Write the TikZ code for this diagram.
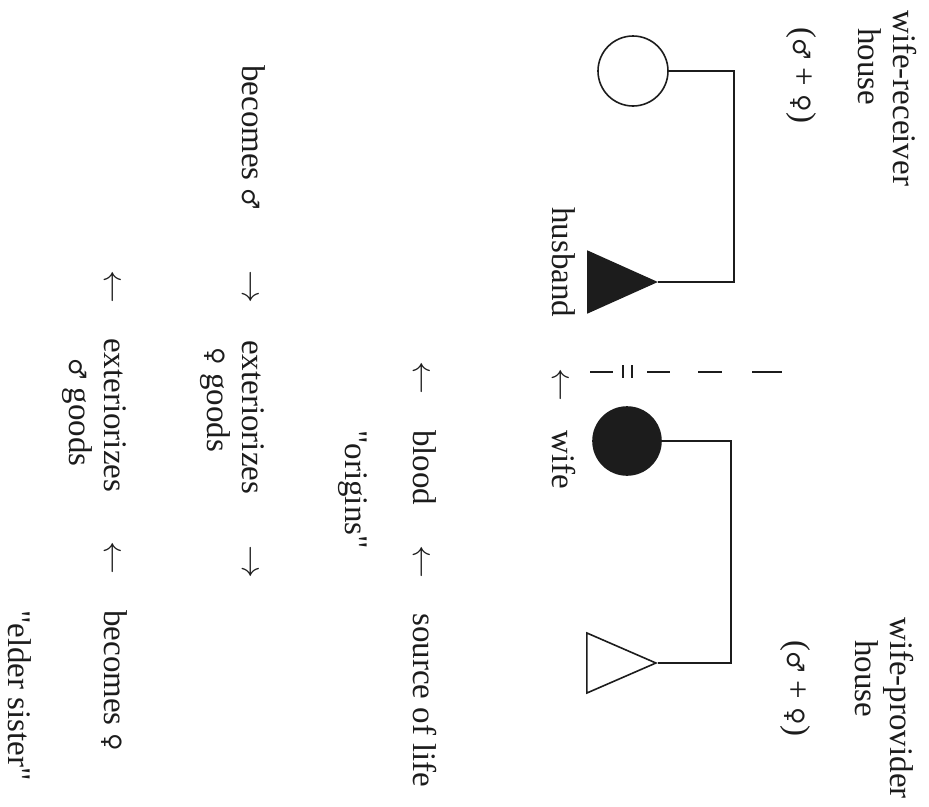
\RequirePackage{fix-cm}
\documentclass[tikz,border=0pt]{standalone}
\usepackage{fontspec}
\usepackage{tikz}
\usetikzlibrary{shapes.geometric}
\setmainfont{Liberation Serif}
\newfontfamily\gsym{DejaVu Sans}
\definecolor{ink}{HTML}{1C1C1C}
\newcommand{\msym}{{\gsym\fontsize{24}{28}\selectfont ♂}}
\newcommand{\fsym}{{\gsym\fontsize{24}{28}\selectfont ♀}}

\begin{document}
\begin{tikzpicture}[x=1pt, y=-1pt,
    lbl/.style={rotate=-90, anchor=base west, inner sep=0, text=ink,
      font=\fontsize{33}{35}\selectfont},
    kin/.style={draw=ink, line width=1.6pt, inner sep=0},
    tri/.style={isosceles triangle, isosceles triangle stretches,
      minimum width=61, minimum height=68},
    link/.style={draw=ink, line width=1.4pt}]
  \useasboundingbox (0,0) rectangle (929,806);
  % wife-receiver side
  \node[lbl, align=left] (rcvtxt) at (858,10) {wife-receiver\\\hspace*{18pt}house};
  \node[lbl] (rcvsex) at (793,27) {(\msym{} + \fsym)};
  \node[kin, circle, minimum size=70] (rcv) at (633,71) {};
  \node[kin, tri, fill=ink, anchor=apex] (hus) at (658,282) {};
  \draw[link] (rcv.east) -- ++(65,0) |- (hus.apex);
  % marriage line
  \foreach \a/\b in {590/613, 647/670, 698/722, 752/782}
    \draw[link, line width=2pt] (\a,372) -- (\b,372);
  \draw[link] (623,365) -- (623,378) (632,365) -- (632,378);
  % wife-provider side
  \node[kin, circle, fill=ink, minimum size=68] (wif) at (627,441) {};
  \node[kin, tri, anchor=apex, minimum width=60, minimum height=69] (prv) at (658,663) {};
  \draw[link] (wif.east) -- ++(69,0) |- (prv.apex);
  \node[lbl, align=left] (prvtxt) at (855,617) {wife-provider\\\hspace*{23pt}house};
  \node[lbl] (prvsex) at (787,640) {(\msym{} + \fsym)};
  % husband <- wife
  \node[lbl] (husl) at (552,207) {husband};
  \node[lbl] (a1) at (552,368) {$\leftarrow$};
  \node[lbl] (wifl) at (552,430) {wife};
  % blood
  \node[lbl] (a2) at (413,361) {$\leftarrow$};
  \node[lbl] (blood) at (413,430) {blood};
  \node[lbl] (a3) at (413,545) {$\leftarrow$};
  \node[lbl] (life) at (413,613) {source of life};
  \node[lbl] (orig) at (345,430) {\textquotedbl origins\textquotedbl};
  % goods
  \node[lbl] (becm) at (242,65) {becomes \msym};
  \node[lbl] (a4) at (242,270) {$\rightarrow$};
  \node[lbl, align=left] (extf) at (207,340) {exteriorizes\\\hspace*{7pt}\fsym{} goods};
  \node[lbl] (a5) at (242,545) {$\rightarrow$};
  \node[lbl] (a6) at (104,270) {$\leftarrow$};
  \node[lbl, align=left] (extm) at (69,338) {exteriorizes\\\hspace*{20pt}\msym{} goods};
  \node[lbl] (a7) at (104,541) {$\leftarrow$};
  \node[lbl] (becf) at (104,610) {becomes \fsym};
  \node[lbl] (elder) at (9,610) {\textquotedbl elder sister\textquotedbl};
\end{tikzpicture}
\end{document}
